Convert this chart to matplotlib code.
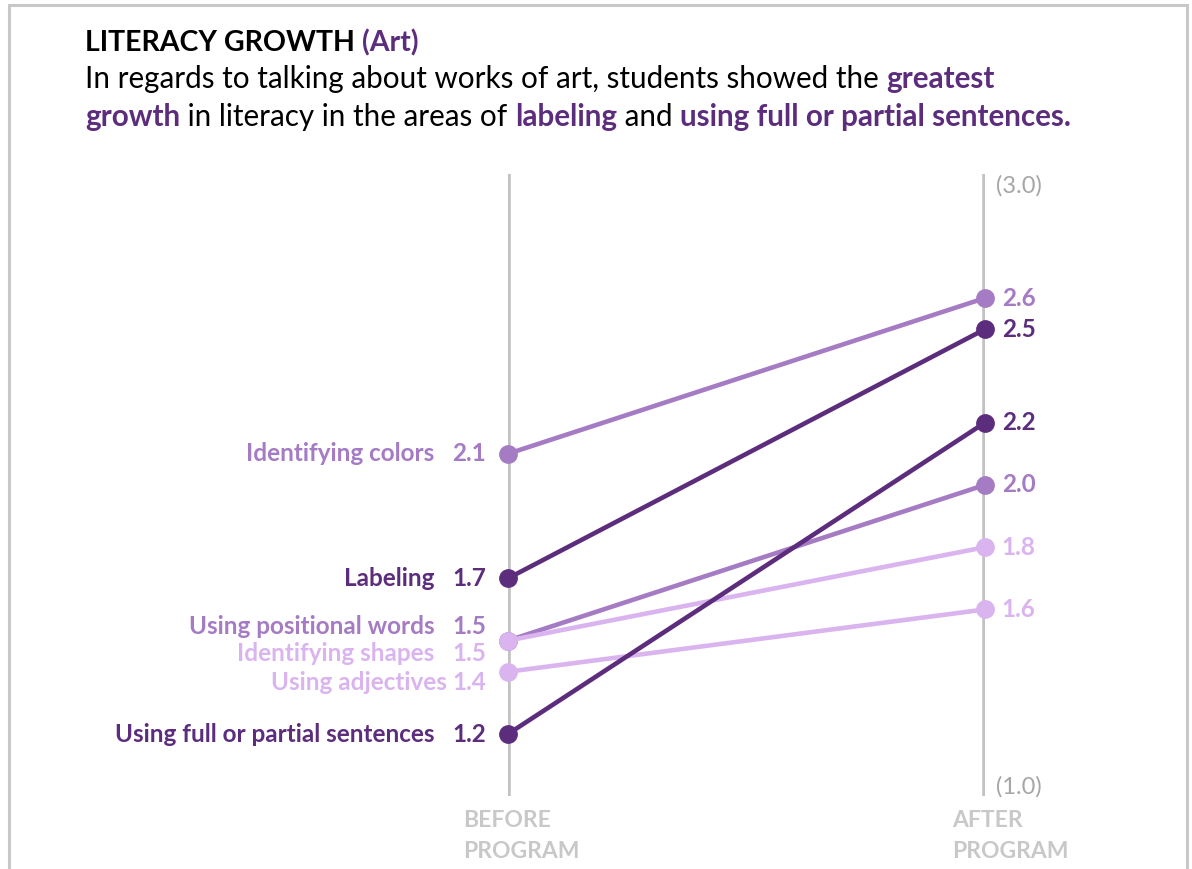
import matplotlib
matplotlib.use('Agg')
import matplotlib.pyplot as plt

# slope chart data
skills = ['Identifying colors', 'Labeling', 'Using positional words',
          'Identifying shapes', 'Using adjectives', 'Using full or partial sentences']
before = [2.1, 1.7, 1.5, 1.5, 1.4, 1.2]
after = [2.6, 2.5, 2.0, 1.8, 1.6, 2.2]
shade = ['mid', 'dark', 'mid', 'light', 'light', 'dark']
periods = ['BEFORE\nPROGRAM', 'AFTER\nPROGRAM']
y_range = [1.0, 3.0]

# label nudges (in data units) so the crowded left labels don't collide
label_nudge = [0.0, 0.0, 0.045, -0.04, -0.035, 0.0]

colors = {'dark': '#5c2d7c', 'mid': '#a57bc4', 'light': '#dab4ef'}
axis_grey = '#c2c2c2'
FONT = 'Lato'
LBL = 17.5

plt.rcParams['font.family'] = [FONT, 'DejaVu Sans']

W, H = 1192, 869
fig = plt.figure(figsize=(W / 100, H / 100), dpi=100)

# frame round the figure (no bottom edge)
frame = fig.add_axes([0, 0, 1, 1])
frame.set_xlim(0, W)
frame.set_ylim(H, 0)
frame.axis('off')
frame.plot([9, 9, 1187, 1187], [H, 5, 5, H], color='#c8c8c8', lw=2.2,
           solid_joinstyle='miter')

# data axes: x=0 before, x=1 after
x0, x1 = 508, 985
ytop, ybot = 173.5, 796.3
ax = fig.add_axes([x0 / W, (H - ybot) / H, (x1 - x0) / W, (ybot - ytop) / H])
ax.set_xlim(0, 1)
ax.set_ylim(*y_range)
ax.axis('off')

ax.vlines([0, 1], y_range[0], y_range[1], color=axis_grey, lw=4, zorder=1)

for i, name in enumerate(skills):
    c = colors[shade[i]]
    ax.plot([0, 1], [before[i], after[i]], color=c, lw=3.3, marker='o',
            ms=12.5, solid_capstyle='round', zorder=2 + i, clip_on=False)
    ly = before[i] + label_nudge[i]
    ax.annotate(f'{before[i]:.1f}', (0, ly), xytext=(-16, 0),
                textcoords='offset points', ha='right', va='center',
                fontsize=LBL, fontweight='bold', color=c)
    ax.annotate(name, (0, ly), xytext=(-53 if name != 'Using adjectives' else -44, 0),
                textcoords='offset points', ha='right', va='center',
                fontsize=LBL, fontweight='bold', color=c)
    ax.annotate(f'{after[i]:.1f}', (1, after[i]), xytext=(12, 0),
                textcoords='offset points', ha='left', va='center',
                fontsize=LBL, fontweight='bold', color=c)

# scale end labels
ax.annotate(f'({y_range[1]:.1f})', (1, y_range[1]), xytext=(8, -9),
            textcoords='offset points', ha='left', va='center',
            fontsize=17, color='#a6a6a6')
ax.annotate(f'({y_range[0]:.1f})', (1, y_range[0]), xytext=(8, 7),
            textcoords='offset points', ha='left', va='center',
            fontsize=17, color='#a6a6a6')

for xi, lab, dx in zip([0, 1], periods, [-32, -24]):
    ax.annotate(lab, (xi, y_range[0]), xytext=(dx, -10),
                textcoords='offset points', ha='left', va='top',
                fontsize=16.5, fontweight='bold', color='#c8c8c8',
                linespacing=1.55)

# title and rich-text subtitle
renderer = fig.canvas.get_renderer()


def rich_line(parts, x, y, size):
    """draw a list of (text, bold, colour) pieces one after another"""
    for txt, bold, col in parts:
        t = fig.text(x / W, 1 - y / H, txt, fontsize=size, color=col,
                     fontweight='bold' if bold else 'normal', va='baseline',
                     ha='left')
        bb = t.get_window_extent(renderer=renderer)
        x = x + bb.width


purple = '#5c2d7c'
rich_line([('LITERACY GROWTH ', True, 'black'), ('(Art)', True, purple)],
          85, 51, 20.5)
rich_line([('In regards to talking about works of art, students showed the ', False, 'black'),
           ('greatest', True, purple)], 85, 88, 21.3)
rich_line([('growth', True, purple), (' in literacy in the areas of ', False, 'black'),
           ('labeling', True, purple), (' and ', False, 'black'),
           ('using full or partial sentences.', True, purple)], 85, 126, 21.3)

fig.savefig('out.png', dpi=100)
